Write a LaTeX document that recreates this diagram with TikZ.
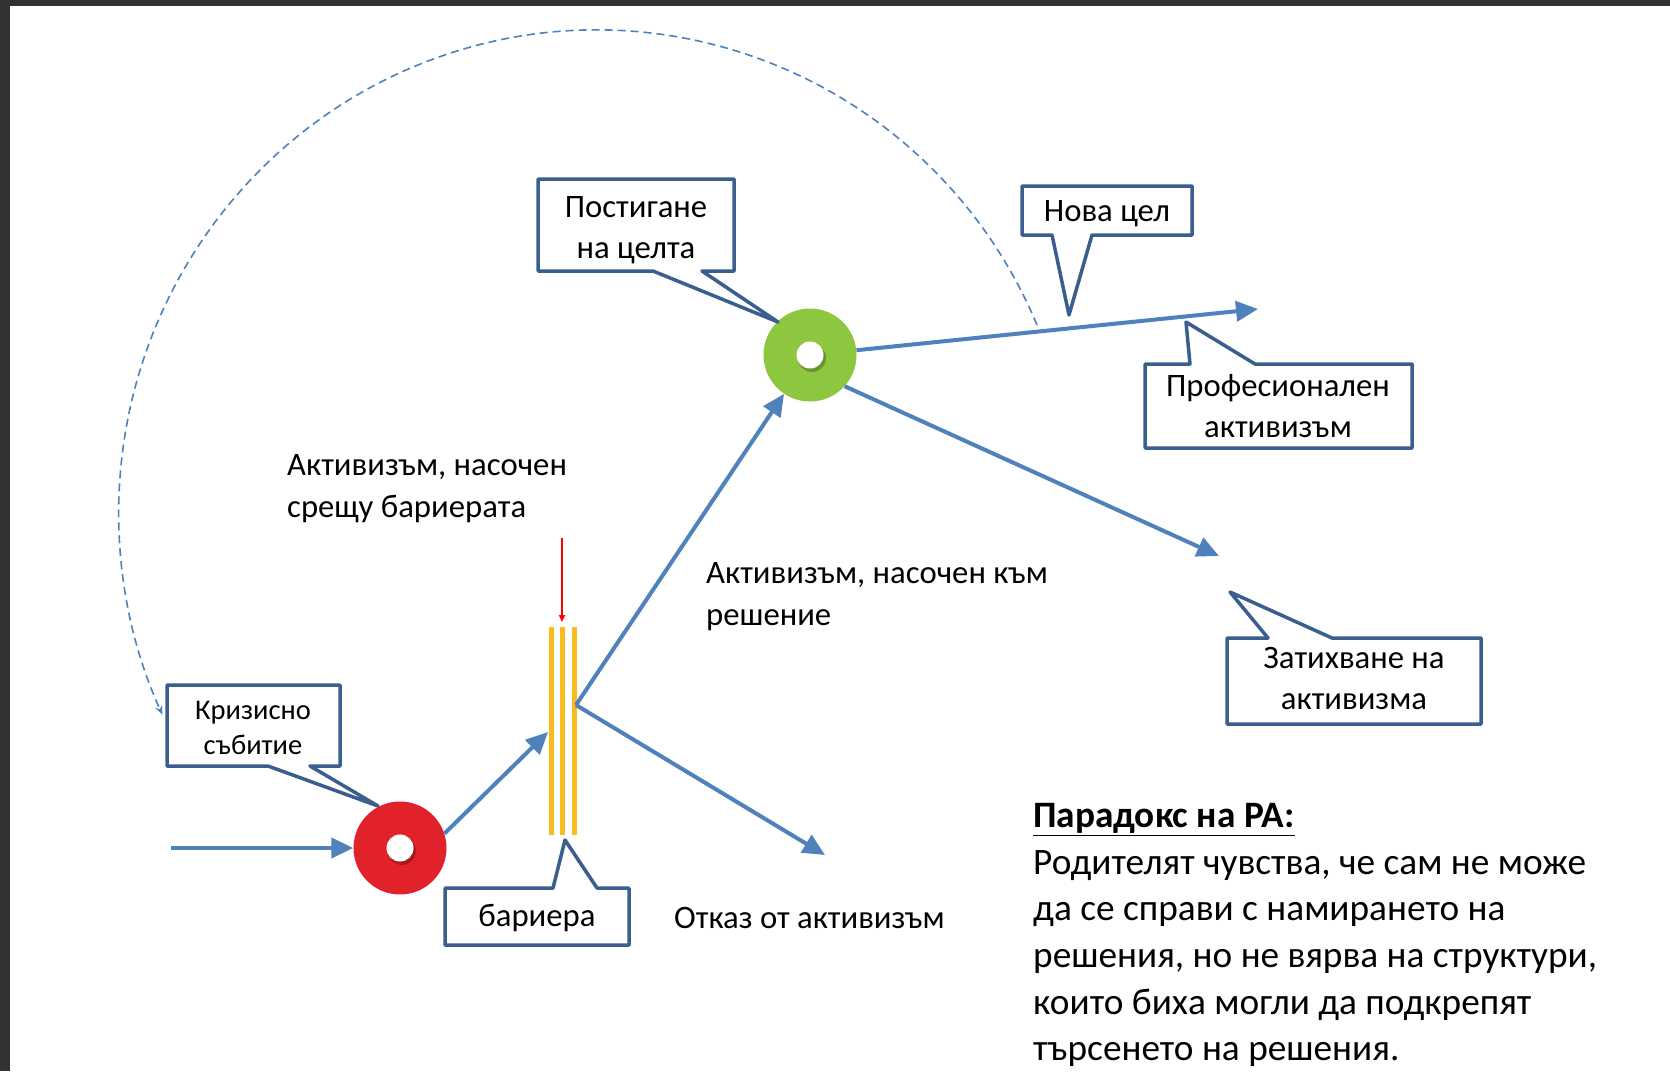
\documentclass[tikz,border=0pt]{standalone}
\usepackage{fontspec}
\setmainfont{Carlito}
\usetikzlibrary{arrows.meta,calc}
\definecolor{arrblue}{HTML}{4F81BD}
\definecolor{calloutblue}{HTML}{3A5F8E}
\definecolor{redc}{HTML}{E1222B}
\definecolor{greenc}{HTML}{8DC63F}
\definecolor{barc}{HTML}{F8BC1C}
\definecolor{framec}{HTML}{323234}
\begin{document}
\begin{tikzpicture}[x=1pt,y=-1pt,
  arr/.style={draw=arrblue,line width=4pt,-{Triangle[length=22pt,width=20pt]}},
  callout/.style={draw=calloutblue,line width=3.5pt,fill=white,line join=round},
  lbl/.style={font=\fontsize{32.7}{41}\selectfont,align=center,inner sep=0pt},
  smalllbl/.style={font=\fontsize{28.5}{35}\selectfont,align=center,inner sep=0pt},
  free/.style={font=\fontsize{32.7}{42}\selectfont,align=left,inner sep=0pt,anchor=west},
  ring/.style={circle,minimum size=93pt,inner sep=0pt},
  dot/.style={circle,fill=white,minimum size=27pt,inner sep=0pt},
  dotshadow/.style={circle,fill=black,opacity=0.25,minimum size=28pt,inner sep=0pt}
]
% page and frame
\fill[white] (0,0) rectangle (1670,1071);
\useasboundingbox (0,0) rectangle (1670,1071);
\fill[framec] (0,0) rectangle (1670,6);
\fill[framec] (0,0) rectangle (10,1071);

% circles
\node[ring,fill=redc] (red) at (400,848) {};
\node[dotshadow] at (402,851) {};
\node[dot] (reddot) at (400,848) {};
\node[ring,fill=greenc] (green) at (810,355) {};
\node[dotshadow] at (812,358) {};
\node[dot] (greendot) at (810,355) {};

% barrier
\draw[barc,line width=5pt] (551,627) -- (551,835);
\draw[barc,line width=5pt] (562,627) -- (562,835);
\draw[barc,line width=5pt] (574,627) -- (574,835);
\coordinate (barin) at (548,732);
\coordinate (barout) at (576,705);
\coordinate (redtop) at (562,538);
\coordinate (redtip) at (562,622);
\draw[red,line width=1.5pt,-{Triangle[length=7pt,width=6pt]}] (redtop) -- (redtip);

% connectors
\coordinate (instart) at (171,848);
\coordinate (refuse) at (825,855);
\coordinate (prof) at (1258,309);
\coordinate (fade) at (1219,556);
\draw[arr] (instart) -- (red);
\draw[arr] (red.18) -- (barin);
\draw[arr] (barout) -- (green);
\draw[arr] (barout) -- (refuse);
\draw[arr] (green) -- (prof);
\draw[arr] (green.-42) -- (fade);

% dashed return arc
\coordinate (arcstart) at (1037,325);
\draw[arrblue,line width=1.6pt,dash pattern=on 8pt off 5pt,-{Stealth[length=9pt,width=7pt]}]
  (arcstart) arc[start angle=22.9,end angle=204.7,x radius=478pt,y radius=483pt];

% callouts
\draw[callout] (538,179) -- (734,179) -- (734,271) -- (702,271) -- (778,322) -- (653,271) -- (538,271) -- cycle;
\node[lbl] (goal) at (636,230) {Постигане\\на целта};

\draw[callout] (1022,186) -- (1192,186) -- (1192,235) -- (1092,235) -- (1069,315) -- (1052,235) -- (1022,235) -- cycle;
\node[lbl] (newgoal) at (1107,214) {Нова цел};

\draw[callout] (1145,364) -- (1190,364) -- (1186,322) -- (1255,364) -- (1412,364) -- (1412,448) -- (1145,448) -- cycle;
\node[lbl] (profl) at (1278,406) {Професионален\\активизъм};

\draw[callout] (1227,638) -- (1268,638) -- (1230,592) -- (1332,638) -- (1481,638) -- (1481,724) -- (1227,724) -- cycle;
\node[lbl] (fadel) at (1354,679) {Затихване на\\активизма};

\draw[callout] (167,685) -- (340,685) -- (340,766) -- (310,766) -- (378,806) -- (268,766) -- (167,766) -- cycle;
\node[smalllbl] (crisis) at (253,728) {Кризисно\\събитие};

\draw[callout] (445,888) -- (553,888) -- (565,840) -- (597,888) -- (629,888) -- (629,945) -- (445,945) -- cycle;
\node[lbl] (barl) at (537,918) {бариера};

% free labels
\node[free] (against) at (287,489) {Активизъм, насочен\\срещу бариерата};
\node[free] (toward) at (706,597) {Активизъм, насочен към\\решение};
\node[free] (refusel) at (674,918) {Отказ от активизъм};

\node[font=\fontsize{37.3}{46.7}\selectfont,align=left,inner sep=0pt,anchor=north west] (paradox) at (1033,803)
  {\textbf{\underline{Парадокс на РА:}}\\
   Родителят чувства, че сам не може\\
   да се справи с намирането на\\
   решения, но не вярва на структури,\\
   които биха могли да подкрепят\\
   търсенето на решения.};
\end{tikzpicture}
\end{document}
